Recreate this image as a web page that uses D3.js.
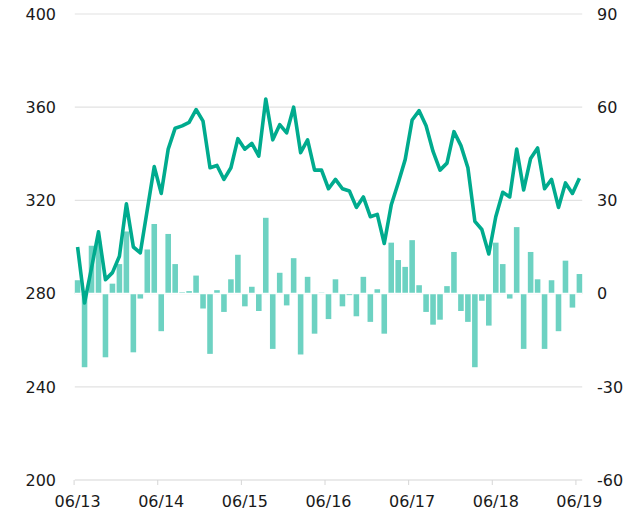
<html>
<head>
<meta charset="utf-8">
<script src="https://d3js.org/d3.v7.min.js"></script>
<style>
body { margin: 0; background: #fff; }
svg text { font-family: "DejaVu Sans", sans-serif; font-size: 16px; fill: #1a1a1a; }
</style>
</head>
<body>
<svg width="632" height="513"></svg>
<script>

// monthly categories, 06/2013 .. 06/2019
var months = [
  "2013-06","2013-07","2013-08","2013-09","2013-10","2013-11","2013-12",
  "2014-01","2014-02","2014-03","2014-04","2014-05","2014-06","2014-07","2014-08","2014-09","2014-10","2014-11","2014-12",
  "2015-01","2015-02","2015-03","2015-04","2015-05","2015-06","2015-07","2015-08","2015-09","2015-10","2015-11","2015-12",
  "2016-01","2016-02","2016-03","2016-04","2016-05","2016-06","2016-07","2016-08","2016-09","2016-10","2016-11","2016-12",
  "2017-01","2017-02","2017-03","2017-04","2017-05","2017-06","2017-07","2017-08","2017-09","2017-10","2017-11","2017-12",
  "2018-01","2018-02","2018-03","2018-04","2018-05","2018-06","2018-07","2018-08","2018-09","2018-10","2018-11","2018-12",
  "2019-01","2019-02","2019-03","2019-04","2019-05","2019-06"]

// line, left axis
var level = [300,276,291,306.5,286,289,296,318.5,300,297.5,316,334.5,323,
  342,351,352,353.5,359,354,334,335,329,334,346.5,342,
  344.5,339,363.5,346,352.5,349,360,340.5,346,333,333,325,
  329,325,324,317,321.5,313,314,301.5,318,327.5,337.5,354.5,
  358.5,352,341,333,336,349.5,343.5,334,311,307.5,297,313,
  323.5,321.5,342,324.5,338,342.5,325,329,317,327.5,323,329.5]

// bars, right axis
var change = [4.3,-23.7,15.4,17,-20.5,3.2,9.5,20,-18.9,-1.6,14.2,22.4,-12.1,
  19.2,9.5,0.4,0.8,5.8,-4.8,-19.4,1.1,-5.9,4.6,12.5,-4.1,
  2.2,-5.6,24.4,-17.8,6.7,-3.8,11.4,-19.6,5.4,-12.9,0.3,-8.2,
  4.6,-4.1,-0.5,-7.3,5.4,-9.1,1.4,-12.9,16.4,10.8,8.6,17.2,
  2.7,-5.9,-10,-8.4,2.4,13.4,-5.6,-9.1,-23.7,-2.3,-10.3,16.4,
  9.5,-1.6,21.4,-17.8,13.4,4.6,-17.8,4.3,-12.1,10.6,-4.5,6.3]

var xTicks = ["2013-06","2014-06","2015-06","2016-06","2017-06","2018-06","2019-06"]
var xTickLabels = ["06/13","06/14","06/15","06/16","06/17","06/18","06/19"]
var leftTicks = [200,240,280,320,360,400]
var rightTicks = [-60,-30,0,30,60,90]

var svg = d3.select("svg")
var plotL = 74.8, plotR = 582.2, plotT = 14, plotB = 480

var x = d3.scaleBand().domain(months).range([plotL, plotR]).paddingInner(0.2)
var yL = d3.scaleLinear().domain([200,400]).range([plotB, plotT])
var yR = d3.scaleLinear().domain([-60,90]).range([plotB, plotT])

// gridlines
svg.append("g").selectAll("line").data(leftTicks).enter().append("line")
  .attr("x1", plotL).attr("x2", plotR)
  .attr("y1", function(d){ return yL(d) }).attr("y2", function(d){ return yL(d) })
  .style("stroke", function(d){ return d == 200 ? "#d6d6d6" : "#e2e2e2" })
  .style("stroke-width", 1.2)

// x ticks at band start
svg.append("g").selectAll("line").data(xTicks).enter().append("line")
  .attr("x1", function(d){ return x(d) - x.step()*x.paddingInner()/2 })
  .attr("x2", function(d){ return x(d) - x.step()*x.paddingInner()/2 })
  .attr("y1", plotB).attr("y2", plotB + 5)
  .style("stroke", "#d6d6d6").style("stroke-width", 1)

svg.append("g").selectAll("text").data(xTicks).enter().append("text")
  .attr("x", function(d){ return x(d) + x.bandwidth()/2 })
  .attr("y", 507)
  .style("text-anchor", "middle")
  .text(function(d,i){ return xTickLabels[i] })

// left labels
svg.append("g").selectAll("text").data(leftTicks).enter().append("text")
  .attr("x", 56).attr("y", function(d){ return yL(d) })
  .attr("dy", "0.36em")
  .style("text-anchor", "end")
  .text(function(d){ return d })

// right labels
svg.append("g").selectAll("text").data(rightTicks).enter().append("text")
  .attr("x", 597).attr("y", function(d){ return yR(d) })
  .attr("dy", "0.36em")
  .style("text-anchor", "start")
  .text(function(d){ return d })

// bars
svg.append("g").selectAll("rect").data(change).enter().append("rect")
  .attr("x", function(d,i){ return x(months[i]) })
  .attr("width", x.bandwidth())
  .attr("y", function(d){ return d >= 0 ? yR(d) : yR(0) })
  .attr("height", function(d){ return Math.abs(yR(d) - yR(0)) })
  .style("fill", "#6dd2c2")

// thin white gap at zero
svg.append("line")
  .attr("x1", plotL).attr("x2", plotR)
  .attr("y1", yR(0)).attr("y2", yR(0))
  .style("stroke", "#fff").style("stroke-width", 1.5)

// line
var line = d3.line()
  .x(function(d,i){ return x(months[i]) + x.bandwidth()/2 })
  .y(function(d){ return yL(d) })

svg.append("path").datum(level)
  .attr("d", line)
  .style("fill", "none")
  .style("stroke", "#00ab8e")
  .style("stroke-width", 3.6)
  .style("stroke-linejoin", "round")

</script>
</body>
</html>
